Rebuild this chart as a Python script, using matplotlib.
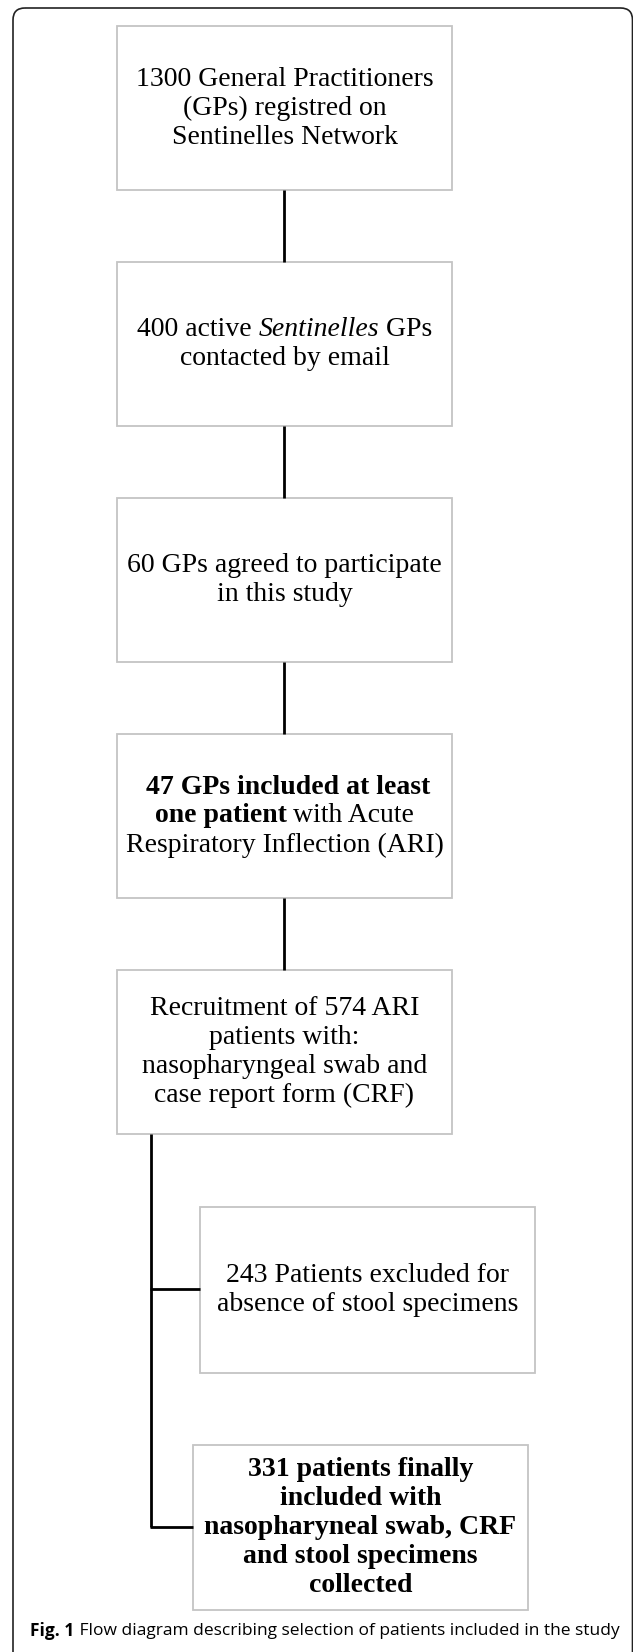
import matplotlib
matplotlib.use("Agg")
import matplotlib.pyplot as plt
from matplotlib.patches import Rectangle, FancyBboxPatch

# box contents: each line is a list of (text, weight, style) pieces
box_texts = [
    [[("1300 General Practitioners", "normal", "normal")],
     [("(GPs) registred on", "normal", "normal")],
     [("Sentinelles Network", "normal", "normal")]],
    [[("400 active ", "normal", "normal"), ("Sentinelles", "normal", "italic"), (" GPs", "normal", "normal")],
     [("contacted by email", "normal", "normal")]],
    [[("60 GPs agreed to participate", "normal", "normal")],
     [("in this study", "normal", "normal")]],
    [[(" 47 GPs included at least", "bold", "normal")],
     [("one patient", "bold", "normal"), (" with Acute", "normal", "normal")],
     [("Respiratory Inflection (ARI)", "normal", "normal")]],
    [[("Recruitment of 574 ARI", "normal", "normal")],
     [("patients with:", "normal", "normal")],
     [("nasopharyngeal swab and", "normal", "normal")],
     [("case report form (CRF)", "normal", "normal")]],
]
excl_text = [[("243 Patients excluded for", "normal", "normal")],
             [("absence of stool specimens", "normal", "normal")]]
final_text = [[("331 patients finally", "bold", "normal")],
              [("included with", "bold", "normal")],
              [("nasopharyneal swab, CRF", "bold", "normal")],
              [("and stool specimens", "bold", "normal")],
              [("collected", "bold", "normal")]]
caption_bold = "Fig. 1"
caption_rest = " Flow diagram describing selection of patients included in the study"

W, H = 633, 1652
fig = plt.figure(figsize=(W / 100, H / 100), dpi=100)
ax = fig.add_axes([0, 0, 1, 1])
ax.set_xlim(0, W)
ax.set_ylim(H, 0)
ax.axis("off")
renderer = fig.canvas.get_renderer()

SERIF = "Liberation Serif"
FS = 20
LINE = 29


def draw_line(pieces, cx, y, family=SERIF, size=FS):
    txts = []
    for s, w, st in pieces:
        t = ax.text(0, y, s, family=family, fontsize=size, weight=w, style=st,
                    ha="left", va="center")
        txts.append(t)
    widths = [t.get_window_extent(renderer).width for t in txts]
    x = cx - sum(widths) / 2
    for t, w in zip(txts, widths):
        t.set_x(x)
        x += w


def draw_box(x0, y0, x1, y1, lines):
    ax.add_patch(Rectangle((x0, y0), x1 - x0, y1 - y0, fill=False,
                           edgecolor="#c4c4c4", linewidth=1.3))
    cy = (y0 + y1) / 2
    n = len(lines)
    for i, ln in enumerate(lines):
        draw_line(ln, (x0 + x1) / 2, cy + (i - (n - 1) / 2) * LINE)


# outer frame
ax.add_patch(FancyBboxPatch((13, 8), 619.5, 1700, boxstyle="round,pad=0,rounding_size=12",
                            fill=False, edgecolor="#222222", linewidth=1.2))

# main column
bx0, bx1 = 117, 452
top0, bh, step = 26, 164, 236
cx = 284
for i, lines in enumerate(box_texts):
    y0 = top0 + i * step
    draw_box(bx0, y0, bx1, y0 + bh, lines)
    if i < len(box_texts) - 1:
        ax.plot([cx, cx], [y0 + bh, y0 + step], color="black", lw=2, solid_capstyle="butt")

# branch
vx = 151
last_bottom = top0 + 4 * step + bh
ax.plot([vx, vx], [last_bottom, 1527], color="black", lw=2, solid_capstyle="butt")
ax.plot([vx - 1, 200], [1289, 1289], color="black", lw=2, solid_capstyle="butt")
ax.plot([vx - 1, 193], [1527, 1527], color="black", lw=2, solid_capstyle="butt")
draw_box(200, 1207, 535, 1373, excl_text)
draw_box(193, 1445, 528, 1610, final_text)

# caption
draw_line([(caption_bold, "bold", "normal"), (caption_rest, "normal", "normal")],
          325, 1631, family="Open Sans", size=12.5)

fig.savefig("out.png", dpi=100)
